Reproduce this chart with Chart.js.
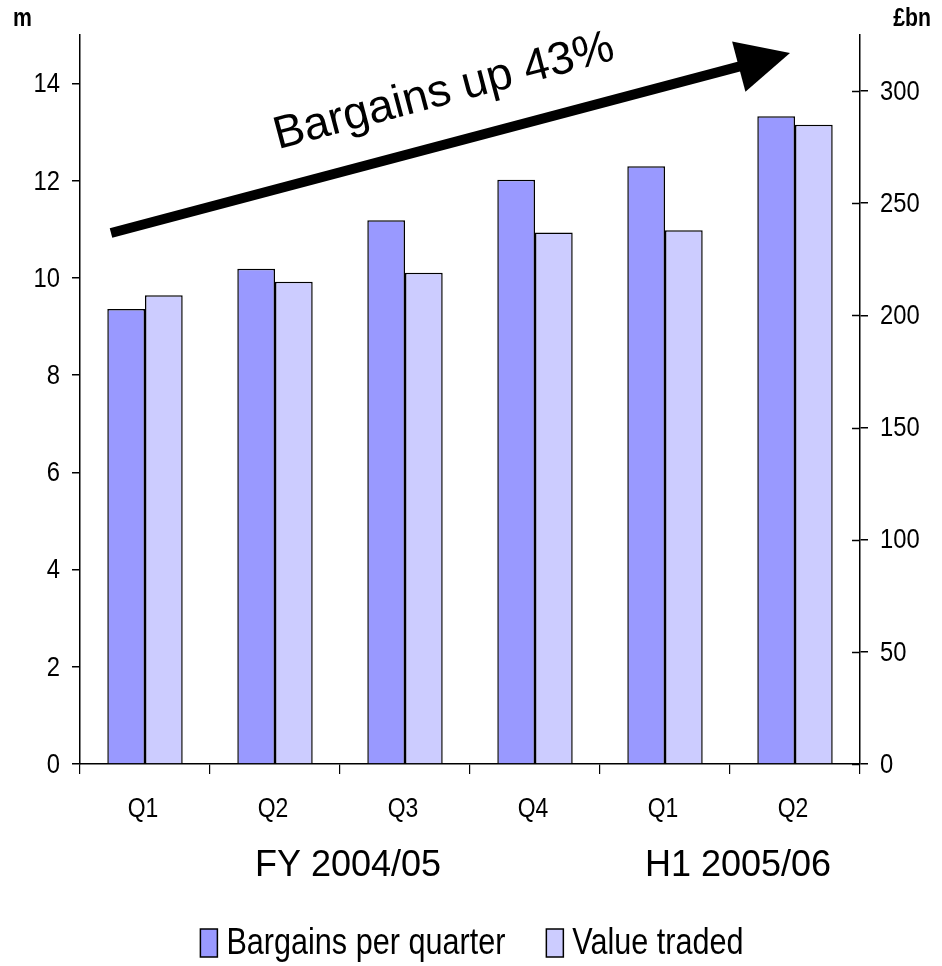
<!DOCTYPE html>
<html>
<head>
<meta charset="utf-8">
<script src="https://cdn.jsdelivr.net/npm/chart.js@4.4.1/dist/chart.umd.min.js"></script>
<style>
  html, body { margin: 0; padding: 0; background: #ffffff; }
  #wrap { width: 942px; height: 966px; }
</style>
</head>
<body>
<div id="wrap"><canvas id="chart" width="942" height="966"></canvas></div>
<script>
// Quarterly trading activity
const categories = ['Q1', 'Q2', 'Q3', 'Q4', 'Q1', 'Q2'];
const bargainsPerQuarter = [9.36, 10.19, 11.19, 12.02, 12.30, 13.33];   // millions
const valueTraded = [209, 215, 219, 237, 238, 285];                      // £bn
const leftTickValues = [0, 2, 4, 6, 8, 10, 12, 14];
const rightTickValues = [0, 50, 100, 150, 200, 250, 300];
const periodLabels = ['FY 2004/05', 'H1 2005/06'];
const periodSpans = [[0, 3], [4, 5]];
const seriesNames = ['Bargains per quarter', 'Value traded'];
const headline = 'Bargains up 43%';

const SANS = '"Liberation Sans", Arial, sans-serif';
const DARK = '#9999FF';
const LIGHT = '#CCCCFF';
const SQUEEZE = 0.85;   // horizontal squeeze for the condensed labels

// draw text compressed horizontally around its anchor
function narrowText(ctx, text, x, y, align, font) {
  ctx.save();
  ctx.font = font;
  ctx.textAlign = align;
  ctx.textBaseline = 'middle';
  ctx.translate(x, y);
  ctx.scale(SQUEEZE, 1);
  ctx.fillText(text, 0, 0);
  ctx.restore();
}

const extras = {
  id: 'extras',
  afterDraw(chart) {
    const ctx = chart.ctx;
    const area = chart.chartArea;
    const x = chart.scales.x;
    const yL = chart.scales.y;
    const yR = chart.scales.y1;
    ctx.save();
    ctx.fillStyle = '#000';

    // inner half of the right-axis tick marks
    ctx.strokeStyle = '#000';
    ctx.lineWidth = 1.5;
    yR.ticks.forEach(t => {
      const py = Math.round(yR.getPixelForValue(t.value)) + 0.5;
      ctx.beginPath();
      ctx.moveTo(area.right - 8, py);
      ctx.lineTo(area.right, py);
      ctx.stroke();
    });

    // tick labels (condensed)
    const tickFont = '28px ' + SANS;
    yL.ticks.forEach(t => {
      narrowText(ctx, String(t.value), area.left - 20, yL.getPixelForValue(t.value) + 1, 'right', tickFont);
    });
    yR.ticks.forEach(t => {
      narrowText(ctx, String(t.value), area.right + 20, yR.getPixelForValue(t.value) + 1, 'left', tickFont);
    });
    categories.forEach((c, i) => {
      narrowText(ctx, c, x.getPixelForValue(i) - 2, area.bottom + 46, 'center', '27px ' + SANS);
    });

    // axis unit captions
    narrowText(ctx, 'm', 13, 19, 'left', 'bold 25px ' + SANS);
    narrowText(ctx, '£bn', 931, 19, 'right', 'bold 25px ' + SANS);

    // period captions under the quarters
    ctx.font = '36px ' + SANS;
    ctx.textAlign = 'center';
    ctx.textBaseline = 'middle';
    periodLabels.forEach((lab, i) => {
      const [a, b] = periodSpans[i];
      const cx = (x.getPixelForValue(a) + x.getPixelForValue(b)) / 2 + 8;
      ctx.fillText(lab, cx, 866);
    });

    // trend arrow
    const x0 = area.left + 31, y0 = area.top + 198;
    const x1 = area.left + 710, y1 = area.top + 18;
    const ang = Math.atan2(y1 - y0, x1 - x0);
    const headLen = 53, headHalf = 26;
    const bx = x1 - headLen * Math.cos(ang), by = y1 - headLen * Math.sin(ang);
    ctx.strokeStyle = '#000';
    ctx.lineWidth = 10;
    ctx.lineCap = 'butt';
    ctx.beginPath();
    ctx.moveTo(x0, y0);
    ctx.lineTo(bx + 2 * Math.cos(ang), by + 2 * Math.sin(ang));
    ctx.stroke();
    ctx.beginPath();
    ctx.moveTo(x1, y1);
    ctx.lineTo(bx - headHalf * Math.sin(ang), by + headHalf * Math.cos(ang));
    ctx.lineTo(bx + headHalf * Math.sin(ang), by - headHalf * Math.cos(ang));
    ctx.closePath();
    ctx.fill();

    // arrow caption
    ctx.save();
    ctx.translate(area.left + 364, area.top + 57);
    ctx.rotate(ang);
    ctx.font = '46px ' + SANS;
    ctx.textAlign = 'center';
    ctx.textBaseline = 'middle';
    ctx.fillText(headline, 0, 0);
    ctx.restore();

    // legend
    const legendFont = '36px ' + SANS;
    ctx.font = legendFont;
    const boxW = 17, boxH = 28, gap = 9, spacing = 41;
    const colors = [DARK, LIGHT];
    const widths = seriesNames.map(s => ctx.measureText(s).width * SQUEEZE);
    const total = widths.reduce((s, w) => s + boxW + gap + w, 0) + spacing;
    let lx = 472 - total / 2;
    const ly = 943;
    seriesNames.forEach((s, i) => {
      ctx.fillStyle = colors[i];
      ctx.fillRect(lx, ly - boxH / 2, boxW, boxH);
      ctx.strokeStyle = '#000';
      ctx.lineWidth = 1.5;
      ctx.strokeRect(lx, ly - boxH / 2, boxW, boxH);
      ctx.fillStyle = '#000';
      narrowText(ctx, s, lx + boxW + gap, ly + 1, 'left', legendFont);
      lx += boxW + gap + widths[i] + spacing;
    });

    ctx.restore();
  }
};

new Chart(document.getElementById('chart'), {
  type: 'bar',
  data: {
    labels: categories,
    datasets: [
      {
        label: seriesNames[0],
        data: bargainsPerQuarter,
        yAxisID: 'y',
        backgroundColor: DARK,
        borderColor: '#000',
        borderWidth: 1.5,
        categoryPercentage: 0.58,
        barPercentage: 1.0
      },
      {
        label: seriesNames[1],
        data: valueTraded,
        yAxisID: 'y1',
        backgroundColor: LIGHT,
        borderColor: '#000',
        borderWidth: 1.5,
        categoryPercentage: 0.58,
        barPercentage: 1.0
      }
    ]
  },
  options: {
    responsive: false,
    animation: false,
    layout: { padding: { top: 35, bottom: 0, left: 0, right: 0 } },
    plugins: {
      legend: { display: false },
      tooltip: { enabled: false }
    },
    scales: {
      x: {
        offset: true,
        border: { display: true, color: '#000', width: 1.5 },
        grid: {
          offset: true,
          drawOnChartArea: false,
          drawTicks: true,
          tickLength: 10,
          color: '#000',
          lineWidth: 1.2
        },
        ticks: { display: false },
        afterFit(scale) { scale.height = 202; }
      },
      y: {
        position: 'left',
        min: 0,
        max: 15,
        border: { display: true, color: '#000', width: 1.5 },
        grid: {
          drawOnChartArea: false,
          drawTicks: true,
          tickLength: 8,
          color: '#000',
          lineWidth: 1.5
        },
        ticks: { display: false },
        afterBuildTicks(scale) { scale.ticks = leftTickValues.map(v => ({ value: v })); },
        afterFit(scale) { scale.width = 80; }
      },
      y1: {
        position: 'right',
        min: 0,
        max: 325,
        border: { display: true, color: '#000', width: 1.5 },
        grid: {
          drawOnChartArea: false,
          drawTicks: true,
          tickLength: 8,
          color: '#000',
          lineWidth: 1.5
        },
        ticks: { display: false },
        afterBuildTicks(scale) { scale.ticks = rightTickValues.map(v => ({ value: v })); },
        afterFit(scale) { scale.width = 82; }
      }
    }
  },
  plugins: [extras]
});
</script>
</body>
</html>
